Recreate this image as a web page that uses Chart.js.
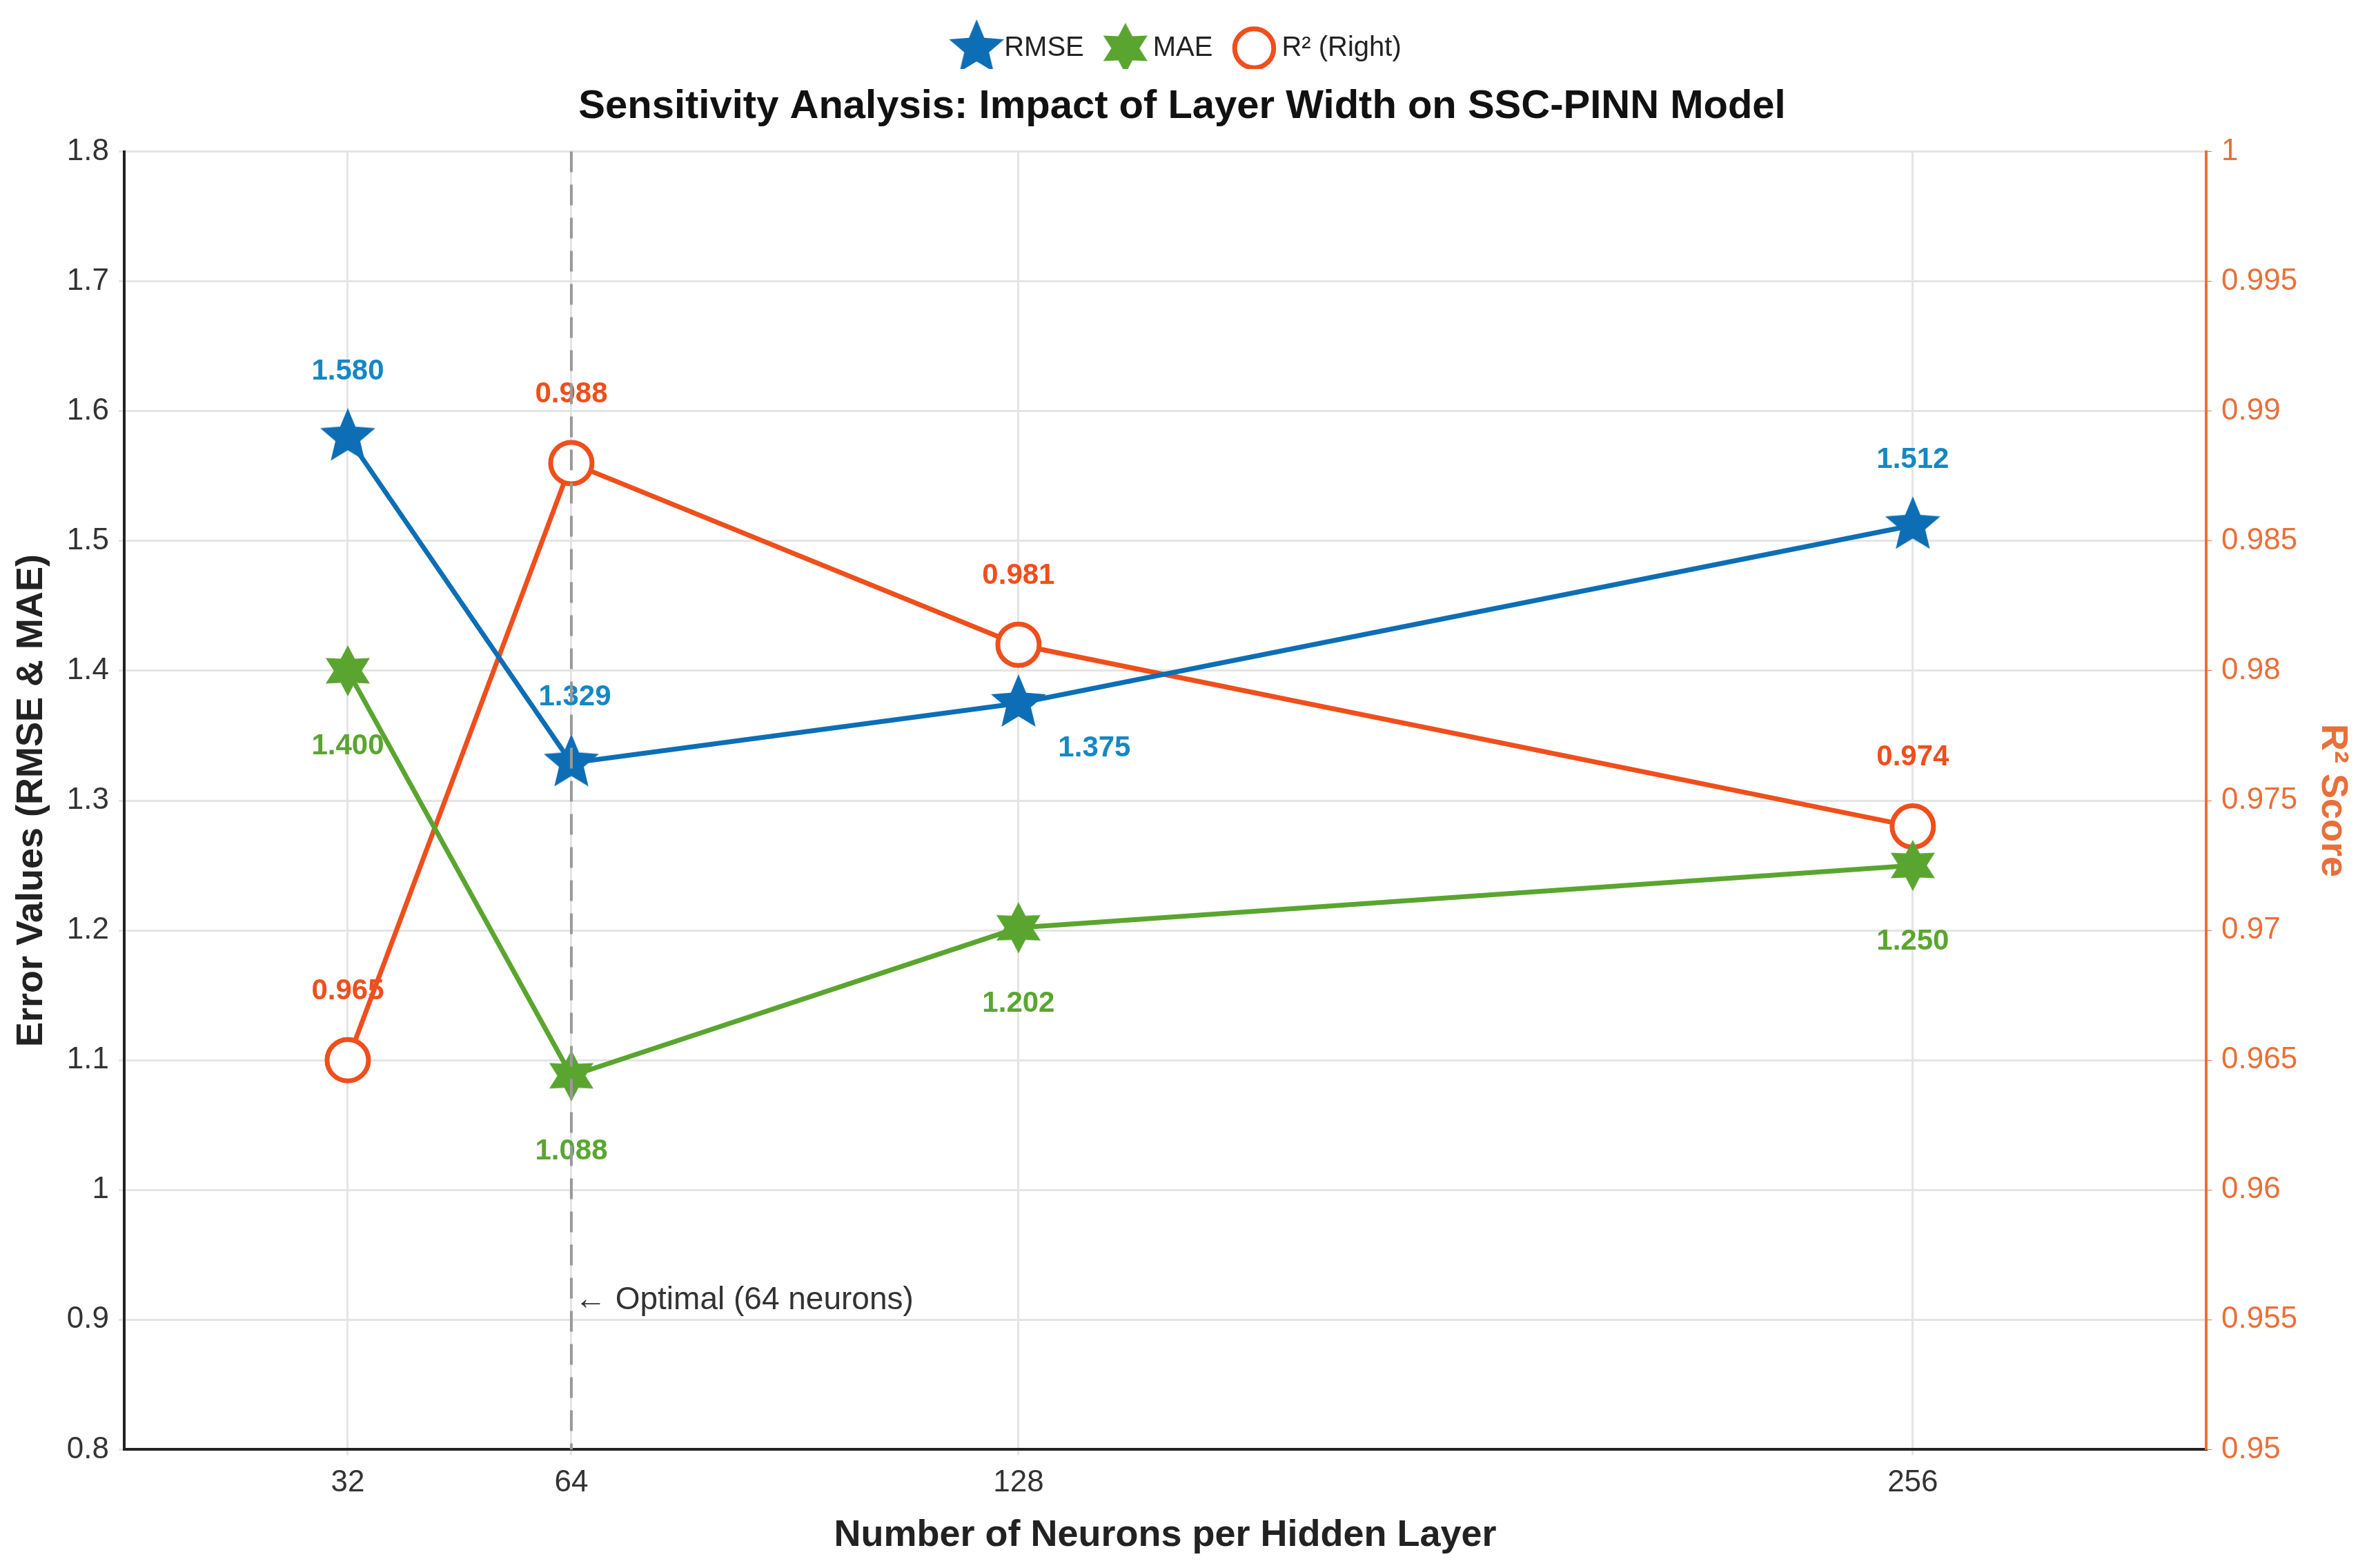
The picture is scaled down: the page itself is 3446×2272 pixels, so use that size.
<!DOCTYPE html>
<html><head><meta charset="utf-8">
<script src="https://cdn.jsdelivr.net/npm/chart.js@4"></script>
<style>html,body{margin:0;background:#fff}#wrap{width:3446px;height:2272px}</style>
</head><body><div id="wrap"><canvas id="c"></canvas></div>
<script>
const neurons = [32, 64, 128, 256]
const rmse = [1.580, 1.329, 1.375, 1.512]
const mae = [1.400, 1.088, 1.202, 1.250]
const r2 = [0.965, 0.988, 0.981, 0.974]
const rmseLabelPos = ['up', 'upright', 'downright', 'up']

const blue = '#0d6eb5', green = '#5aa530', orange = '#ee4f1c'
const font = 'Arial, "Liberation Sans", sans-serif'

const pts = (ys) => neurons.map((x, i) => ({ x: x, y: ys[i] }))

makeStar = (n, size, inner, color) => {
	const c = document.createElement('canvas')
	c.width = size; c.height = size
	const g = c.getContext('2d')
	const r = size / 2
	g.fillStyle = color
	g.beginPath()
	for (let i = 0; i < n * 2; i++) {
		const a = -Math.PI / 2 + i * Math.PI / n
		const rr = i % 2 == 0 ? r : r * inner
		g.lineTo(r + rr * Math.cos(a), r + rr * Math.sin(a))
	}
	g.closePath()
	g.fill()
	return c
}
const blueStar = makeStar(5, 84, 0.45, blue)
const greenStar = makeStar(6, 74, 0.55, green)

const labelPlugin = {
	id: 'labels',
	afterDatasetsDraw(chart) {
		const ctx = chart.ctx
		ctx.save()
		ctx.font = 'bold 42px ' + font
		ctx.textAlign = 'center'
		ctx.textBaseline = 'middle'
		chart.getDatasetMeta(0).data.forEach((p, i) => {
			ctx.fillStyle = '#1587c4'
			let dx = 0, dy = -95
			if (rmseLabelPos[i] == 'upright') { dx = 5; dy = -95 }
			if (rmseLabelPos[i] == 'downright') { dx = 110; dy = 65 }
			ctx.fillText(rmse[i].toFixed(3), p.x + dx, p.y + dy)
		})
		chart.getDatasetMeta(1).data.forEach((p, i) => {
			ctx.fillStyle = green
			ctx.fillText(mae[i].toFixed(3), p.x, p.y + 110)
		})
		chart.getDatasetMeta(2).data.forEach((p, i) => {
			ctx.fillStyle = orange
			ctx.fillText(r2[i].toFixed(3), p.x, p.y - 100)
		})
		// optimal marker
		const xs = chart.scales.x, ys = chart.scales.y
		const x64 = xs.getPixelForValue(64)
		ctx.setLineDash([30, 18])
		ctx.strokeStyle = '#999'
		ctx.lineWidth = 4
		ctx.beginPath()
		ctx.moveTo(x64, ys.top)
		ctx.lineTo(x64, ys.bottom)
		ctx.stroke()
		ctx.setLineDash([])
		ctx.fillStyle = '#333'
		ctx.textAlign = 'left'
		ctx.font = '46px ' + font
		ctx.fillText('\u2190 Optimal (64 neurons)', x64 + 5, ys.getPixelForValue(0.915))
		ctx.restore()
	}
}

new Chart(document.getElementById('c'), {
	type: 'line',
	data: {
		datasets: [
			{ label: 'RMSE', data: pts(rmse), borderColor: blue, backgroundColor: blue, borderWidth: 7, pointStyle: blueStar, yAxisID: 'y' },
			{ label: 'MAE', data: pts(mae), borderColor: green, backgroundColor: green, borderWidth: 7, pointStyle: greenStar, yAxisID: 'y' },
			{ label: 'R\u00b2 (Right)', data: pts(r2), borderColor: orange, backgroundColor: '#fff', borderWidth: 7, pointStyle: 'circle', pointRadius: 30, pointBorderWidth: 7, yAxisID: 'y1' }
		]
	},
	options: {
		responsive: true,
		maintainAspectRatio: false,
		animation: false,
		layout: { padding: { left: 10, right: 30, top: 10, bottom: 10 } },
		plugins: {
			legend: {
				labels: { font: { size: 40, family: font }, color: '#222', usePointStyle: true, padding: 40 }
			},
			title: { display: true, weight: 500, text: 'Sensitivity Analysis: Impact of Layer Width on SSC-PINN Model', font: { size: 58, weight: 'bold', family: font }, color: '#111', padding: { top: 20, bottom: 30 } },
			tooltip: { enabled: false }
		},
		scales: {
			x: {
				type: 'linear', min: 0, max: 298,
				afterBuildTicks: (s) => { s.ticks = neurons.map(v => ({ value: v })) },
				ticks: { font: { size: 44, family: font }, color: '#333', padding: 14 },
				grid: { color: '#e4e4e4', lineWidth: 3 },
				border: { color: '#222', width: 4 },
				title: { display: true, text: 'Number of Neurons per Hidden Layer', font: { size: 54, weight: 'bold', family: font }, color: '#222' }
			},
			y: {
				min: 0.8, max: 1.8,
				ticks: { stepSize: 0.1, font: { size: 44, family: font }, color: '#333', padding: 14, callback: v => +v.toFixed(1) },
				grid: { color: '#e4e4e4', lineWidth: 3 },
				border: { color: '#222', width: 4 },
				title: { display: true, text: 'Error Values (RMSE & MAE)', font: { size: 54, weight: 'bold', family: font }, color: '#222' }
			},
			y1: {
				position: 'right', min: 0.95, max: 1,
				ticks: { stepSize: 0.005, font: { size: 44, family: font }, color: '#e8703a', padding: 14, callback: v => +v.toFixed(3) },
				grid: { drawOnChartArea: false, color: '#e8703a' },
				border: { color: '#e8703a', width: 4 },
				title: { display: true, text: 'R\u00b2 Score', font: { size: 54, weight: 'bold', family: font }, color: '#e8703a' }
			}
		}
	},
	plugins: [labelPlugin]
})
</script></body></html>
